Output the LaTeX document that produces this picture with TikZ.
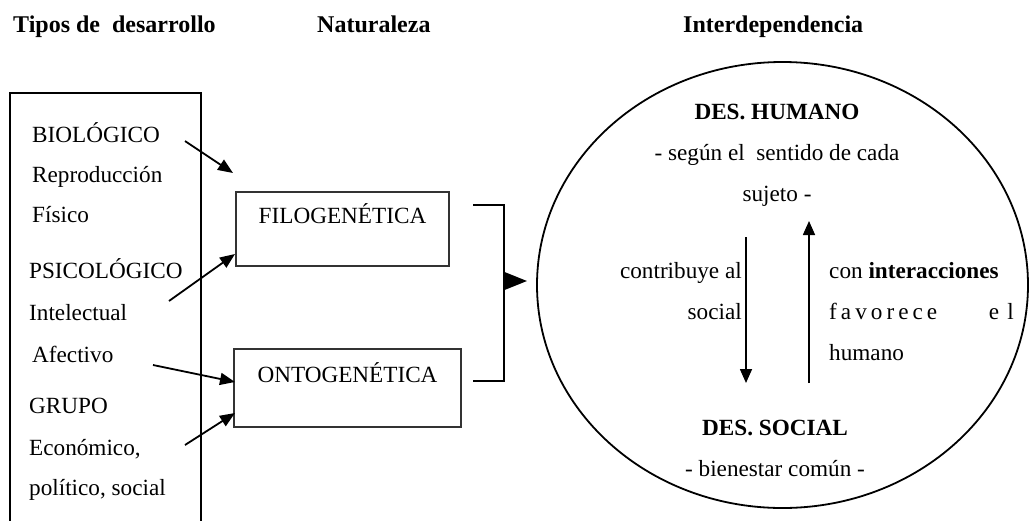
\documentclass[tikz,border=0pt]{standalone}
\usepackage{fontspec}
\setmainfont{Liberation Serif}
\usetikzlibrary{arrows.meta,shapes.geometric}
\begin{document}
\begin{tikzpicture}[x=1pt,y=-1pt,
  txt/.style={inner sep=0pt,font=\fontsize{23.2}{27}\selectfont},
  head/.style={txt,font=\fontsize{24}{28}\selectfont\bfseries,anchor=base west},
  item/.style={txt,anchor=base west},
  kindbox/.style={draw=black!80,line width=1.1pt,inner sep=0pt},
  link/.style={line width=1.8pt,-{Triangle[length=15pt,width=12pt]}},
  vlink/.style={line width=1.6pt,-{Triangle[length=14pt,width=12pt]}}]
\path[use as bounding box,clip] (0,0) rectangle (1029,520);

% column headings
\node[head] (h1) at (13,32) {Tipos de\ \ desarrollo};
\node[head] (h2) at (317,32) {Naturaleza};
\node[head] (h3) at (683,32) {Interdependencia};

% list of development types
\draw[line width=1.8pt] (10,535) -- (10,93) -- (201,93) -- (201,535);
\node[item] (bio)  at (32,142) {BIOLÓGICO};
\node[item] (rep)  at (32,182) {Reproducción};
\node[item] (fis)  at (32,222) {Físico};
\node[item] (psi)  at (29,278) {PSICOLÓGICO};
\node[item] (int)  at (29,320) {Intelectual};
\node[item] (afe)  at (32,362) {Afectivo};
\node[item] (gru)  at (29,413) {GRUPO};
\node[item] (eco)  at (29,455) {Económico,};
\node[item] (pol)  at (29,495) {político, social};

% nature boxes
\node[kindbox,minimum width=213pt,minimum height=74pt] (filo) at (342.5,229) {};
\node[txt,anchor=base] (filot) at (342.5,223) {FILOGENÉTICA};
\node[kindbox,minimum width=227pt,minimum height=78pt] (onto) at (347.5,388) {};
\node[txt,anchor=base] (ontot) at (347.5,382) {ONTOGENÉTICA};

% arrows from the types to the boxes
\coordinate (b1) at (185,141);  \coordinate (e1) at (233,173);
\coordinate (b2) at (169,301);  \coordinate (e2) at (235,254);
\coordinate (b3) at (153,365);  \coordinate (e3) at (235,382);
\coordinate (b4) at (185,445);  \coordinate (e4) at (235,413);
\draw[link] (b1) -- (e1);
\draw[link] (b2) -- (e2);
\draw[link] (b3) -- (e3);
\draw[link] (b4) -- (e4);

% bracket joining both natures
\coordinate (k1) at (473,205);
\coordinate (k2) at (473,381);
\coordinate (km) at (504,281);
\coordinate (kt) at (527,281);
\draw[line width=1.8pt] (k1) -- (504,205) -- (504,381) -- (k2);
\draw[line width=1.8pt,-{Triangle[length=23pt,width=18pt]}] (km) -- (kt);

% interdependence circle
\node[draw,ellipse,line width=1.8pt,inner sep=0pt,minimum width=491pt,minimum height=446pt] (circ) at (782.5,285) {};
\node[txt,anchor=base,font=\fontsize{23.2}{27}\selectfont\bfseries] (hum) at (777,119) {DES. HUMANO};
\node[txt,anchor=base] (hum1) at (777,160) {- según el\ \ sentido de cada};
\node[txt,anchor=base] (hum2) at (777,201) {sujeto -};
\node[txt,anchor=base east] (c1) at (742,278) {contribuye al};
\node[txt,anchor=base east] (c2) at (742,319) {social};
\node[txt,anchor=base west] (f1) at (829,278) {con \textbf{interacciones}};
\node[txt,anchor=base west] (f2) at (829,319) {\hbox to 108pt{f\hfil a\hfil v\hfil o\hfil r\hfil e\hfil c\hfil e}};
\node[txt,anchor=base east] (f3) at (1014,319) {\hbox to 25pt{e\hfil l}};
\node[txt,anchor=base west] (f4) at (829,360) {humano};
\node[txt,anchor=base,font=\fontsize{23.2}{27}\selectfont\bfseries] (soc) at (775,435) {DES. SOCIAL};
\node[txt,anchor=base] (soc1) at (775,476) {- bienestar común -};

\coordinate (d1) at (746,237);  \coordinate (d2) at (746,383);
\coordinate (u1) at (809,383);  \coordinate (u2) at (809,221);
\draw[vlink] (d1) -- (d2);
\draw[vlink] (u1) -- (u2);
\end{tikzpicture}
\end{document}
